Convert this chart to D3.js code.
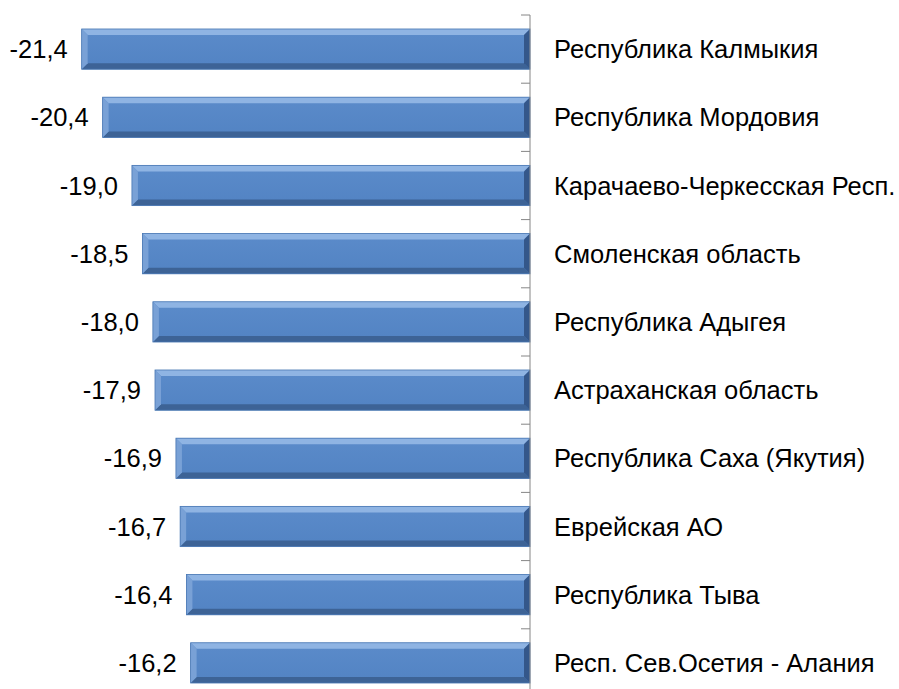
<!DOCTYPE html>
<html>
<head>
<meta charset="utf-8">
<script src="https://cdn.jsdelivr.net/npm/d3@7"></script>
<style>
  body { margin: 0; background: #fff; overflow: hidden; }
  svg text { font-family: "Liberation Sans", Arial, sans-serif; fill: #000; }
</style>
</head>
<body>
<div id="chart"></div>
<script>
const regions = [
  "Республика Калмыкия",
  "Республика Мордовия",
  "Карачаево-Черкесская Респ.",
  "Смоленская область",
  "Республика Адыгея",
  "Астраханская область",
  "Республика Саха (Якутия)",
  "Еврейская АО",
  "Республика Тыва",
  "Респ. Сев.Осетия - Алания"
];
const values = [-21.4, -20.4, -19.0, -18.5, -18.0, -17.9, -16.9, -16.7, -16.4, -16.2];

const width = 899, height = 689;
const zeroX = 530;
const svg = d3.select("#chart").append("svg")
  .attr("width", width).attr("height", height);

const x = d3.scaleLinear().domain([-25, 0]).range([zeroX - 25 * 20.95, zeroX]);
// plot area runs a bit past the bottom edge of the picture
const y = d3.scaleBand().domain(regions).range([15, 697]).paddingInner(0.41).paddingOuter(0.205);

const fmt = v => d3.format(".1f")(v).replace(".", ",").replace("−", "-");

const defs = svg.append("defs");
const grad = defs.append("linearGradient").attr("id", "barGrad")
  .attr("x1", 0).attr("y1", 0).attr("x2", 0).attr("y2", 1);
grad.append("stop").attr("offset", "0%").attr("stop-color", "#5b8bca");
grad.append("stop").attr("offset", "100%").attr("stop-color", "#5283c3");

const bev = 6;
const bars = svg.selectAll(".bar").data(values).join("g").attr("class", "bar");

bars.each(function (v, i) {
  const g = d3.select(this);
  const x0 = x(v), x1 = x(0);
  const y0 = y(regions[i]), h = y.bandwidth(), y1 = y0 + h;
  g.append("rect").attr("x", x0).attr("y", y0).attr("width", x1 - x0).attr("height", h)
    .attr("fill", "url(#barGrad)");
  const poly = (pts, fill) => g.append("polygon")
    .attr("points", pts.map(p => p.join(",")).join(" ")).attr("fill", fill);
  // top bevel
  poly([[x0, y0], [x1, y0], [x1 - bev, y0 + bev], [x0 + bev, y0 + bev]], "#8fb4e3");
  // bottom bevel
  poly([[x0, y1], [x1, y1], [x1 - bev, y1 - bev], [x0 + bev, y1 - bev]], "#3d6396");
  // left bevel
  poly([[x0, y0], [x0 + bev, y0 + bev], [x0 + bev, y1 - bev], [x0, y1]], "#79a1d6");
  // right bevel
  poly([[x1, y0], [x1 - bev, y0 + bev], [x1 - bev, y1 - bev], [x1, y1]], "#34578a");
  g.append("rect").attr("x", x0).attr("y", y0).attr("width", x1 - x0).attr("height", h)
    .attr("fill", "none").attr("stroke", "#4a78b4").attr("stroke-width", 0.8);
});

// axis at zero with ticks at category boundaries
const axis = svg.append("g");
axis.append("line").attr("x1", zeroX).attr("x2", zeroX).attr("y1", 15).attr("y2", 697)
  .attr("stroke", "#868686").attr("stroke-width", 1);
const step = y.step();
d3.range(regions.length + 1).forEach(k => {
  const ty = 15 + k * step;
  axis.append("line").attr("x1", zeroX - 9).attr("x2", zeroX).attr("y1", ty).attr("y2", ty)
    .attr("stroke", "#868686").attr("stroke-width", 1);
});

// value labels
svg.selectAll(".val").data(values).join("text").attr("class", "val")
  .attr("x", d => x(d) - 14)
  .attr("y", (d, i) => y(regions[i]) + y.bandwidth() / 2)
  .attr("dy", "0.36em")
  .attr("text-anchor", "end")
  .style("font-size", "25.5px")
  .text(d => fmt(d));

// category labels
svg.selectAll(".cat").data(regions).join("text").attr("class", "cat")
  .attr("x", zeroX + 24)
  .attr("y", d => y(d) + y.bandwidth() / 2)
  .attr("dy", "0.36em")
  .style("font-size", "25.5px")
  .text(d => d);
</script>
</body>
</html>
